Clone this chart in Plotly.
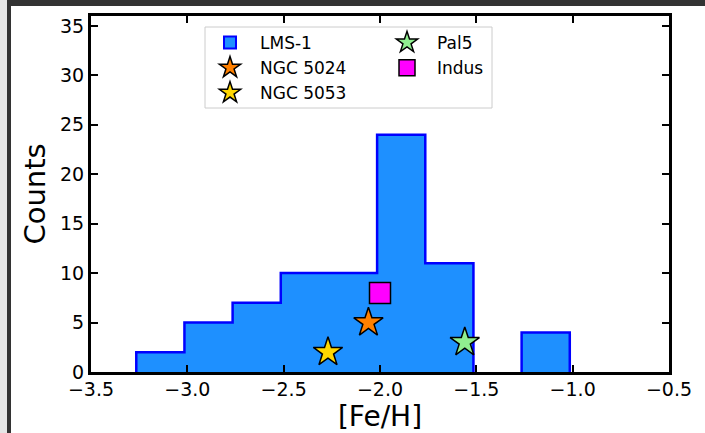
import plotly.graph_objects as go

# Histogram of [Fe/H] for LMS-1 members
bin_edges = [-3.265, -3.015, -2.765, -2.515, -2.265, -2.015, -1.765, -1.515, -1.265, -1.015]
counts = [2, 5, 7, 10, 10, 24, 11, 0, 4]

# Globular clusters / streams overplotted
clusters = ["NGC 5024", "NGC 5053", "Pal5", "Indus"]
cluster_feh = [-2.06, -2.27, -1.56, -2.0]
cluster_y = [5, 2, 3, 8]
cluster_colors = ["#FF8000", "#FFD700", "#90EE90", "#FF00FF"]
cluster_symbols = ["star", "star", "star", "square"]
cluster_legend = ["legend", "legend", "legend2", "legend2"]

x_ticks = [-3.5, -3.0, -2.5, -2.0, -1.5, -1.0, -0.5]
y_ticks = [0, 5, 10, 15, 20, 25, 30, 35]

W, H = 705, 433
L, R, T, B = 91, 36, 16, 61
PW, PH = W - L - R, H - T - B


def px_x(p):
    return (p - L) / PW


def px_y(p):
    return (H - B - p) / PH


# filled step region of the histogram
fx_, fy_ = [bin_edges[0]], [0]
for i, c in enumerate(counts):
    fx_ += [bin_edges[i], bin_edges[i + 1]]
    fy_ += [c, c]
fx_.append(bin_edges[-1])
fy_.append(0)

# outline: same steps, but never drawn along the baseline
ox, oy = [bin_edges[0]], [0]
for i, c in enumerate(counts):
    if c == 0:
        ox += [bin_edges[i], None, bin_edges[i + 1]]
        oy += [0, None, 0]
    else:
        ox += [bin_edges[i], bin_edges[i + 1]]
        oy += [c, c]
ox.append(bin_edges[-1])
oy.append(0)

fig = go.Figure()
fig.add_trace(go.Scatter(
    x=fx_, y=fy_, mode="lines", fill="toself", fillcolor="#1E90FF",
    line=dict(width=0), showlegend=False, hoverinfo="skip",
))
fig.add_trace(go.Scatter(
    x=ox, y=oy, mode="lines", line=dict(color="#0000FF", width=2.5),
    showlegend=False, hoverinfo="skip", connectgaps=False,
))
# legend entry for the histogram
fig.add_trace(go.Bar(
    x=[None], y=[None], name="LMS-1", legend="legend",
    marker=dict(color="#1E90FF", line=dict(color="#0000FF", width=2)),
))
for name, fx, fy, col, sym, lg in zip(clusters, cluster_feh, cluster_y,
                                      cluster_colors, cluster_symbols, cluster_legend):
    fig.add_trace(go.Scatter(
        x=[fx], y=[fy], mode="markers", name=name, legend=lg,
        marker=dict(symbol=sym, size=22 if sym == "star" else 21, color=col,
                    line=dict(color="black", width=1.5)),
    ))

axis_common = dict(
    showline=True, linecolor="black", linewidth=3, mirror="allticks",
    ticks="inside", ticklen=7, tickwidth=2, tickcolor="black",
    showgrid=False, zeroline=False, automargin=False,
    tickfont=dict(family="DejaVu Sans", size=19, color="black"),
)

legend_common = dict(xanchor="left", yanchor="top", bgcolor="rgba(0,0,0,0)",
                     font=dict(size=17), itemwidth=50, tracegroupgap=0)

fig.update_layout(
    width=W, height=H,
    margin=dict(l=L, r=R, t=T, b=B),
    paper_bgcolor="white", plot_bgcolor="white",
    font=dict(family="DejaVu Sans", color="black"),
    xaxis=dict(range=[-3.5, -0.5], tickvals=x_ticks,
               ticktext=[f"{v:.1f}".replace("-", "\u2212") for v in x_ticks],
               ticklabelstandoff=-2,
               title=dict(text="[Fe/H]", font=dict(size=28), standoff=6),
               **axis_common),
    yaxis=dict(range=[0, 36], tickvals=y_ticks,
               title=dict(text="Counts", font=dict(size=29), standoff=6),
               **axis_common),
    legend=dict(x=px_x(200), y=px_y(25), **legend_common),
    legend2=dict(x=px_x(377), y=px_y(25), **legend_common),
    showlegend=True,
    shapes=[
        # legend frame
        dict(type="rect", xref="paper", yref="paper",
             x0=px_x(205), x1=px_x(492), y0=px_y(108), y1=px_y(27),
             line=dict(color="#CCCCCC", width=1), fillcolor="rgba(255,255,255,0.8)",
             layer="above"),
        # window chrome around the figure
        dict(type="rect", xref="paper", yref="paper",
             x0=px_x(7), x1=px_x(W), y0=px_y(6), y1=px_y(0),
             line=dict(width=0), fillcolor="#333333", layer="above"),
        dict(type="rect", xref="paper", yref="paper",
             x0=px_x(0), x1=px_x(7), y0=px_y(H), y1=px_y(0),
             line=dict(width=0), fillcolor="#E6E6E6", layer="above"),
        dict(type="rect", xref="paper", yref="paper",
             x0=px_x(7), x1=px_x(11), y0=px_y(H), y1=px_y(0),
             line=dict(width=0), fillcolor="#333333", layer="above"),
    ],
)

fig.write_html("out.html")
